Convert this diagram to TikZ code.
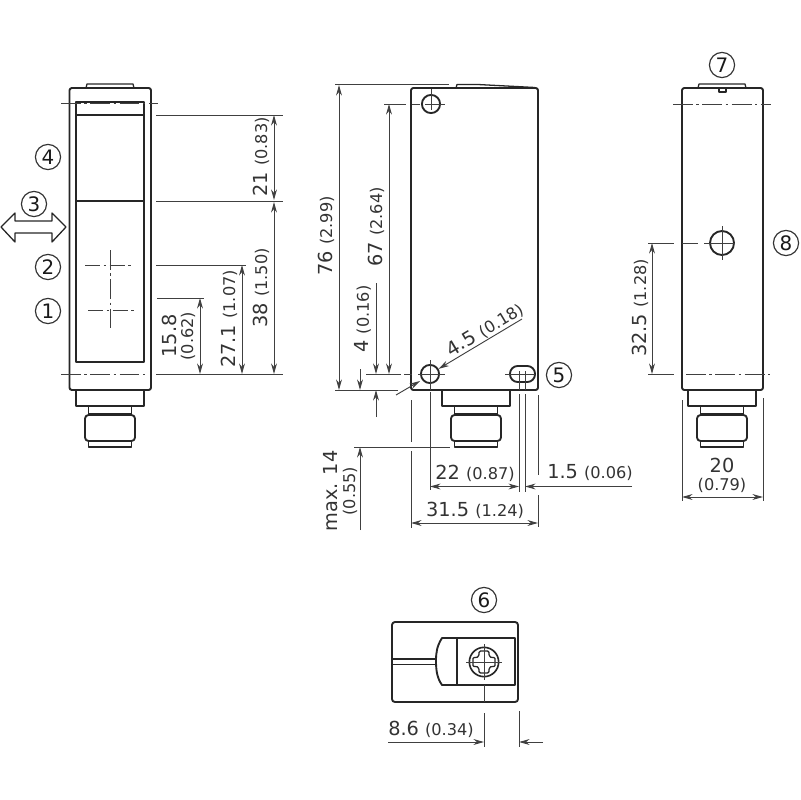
\documentclass[tikz,border=0pt]{standalone}
\usepackage{fontspec}
\setmainfont{DejaVu Sans}
\usetikzlibrary{arrows.meta}
\newcommand{\inch}[1]{{\fontsize{13.8}{15}\selectfont (#1)}}
\begin{document}
\begin{tikzpicture}[x=0.3mm, y=-0.3mm, >={Stealth[length=9pt,width=5pt]}]
        % Define styles
        \tikzstyle{body}=[line width=1.6pt,black!85,line join=round]
        \tikzstyle{dimline}=[line width=0.8pt,black!75]
        \tikzstyle{axis}=[line width=0.8pt,black!75,dash pattern=on 17pt off 3pt on 2pt off 3pt]
        \tikzstyle{label}=[inner sep=0pt,text=black!80,font=\fontsize{16.5}{18}\selectfont]
        \tikzstyle{marker}=[circle,draw=black!80,line width=1pt,minimum size=21.5pt,inner sep=0pt,text=black!90,font=\fontsize{17}{18}\selectfont]

        \useasboundingbox (0,0) rectangle (800,800);

        % Front view housing
        \draw [body, rounded corners=2pt] (69.5,390) -- (69.5,88) -- (151,88) -- (151,390) -- cycle;
        \draw [body, line width=1.1pt] (86,88) -- (87,84) -- (133,84) -- (134,88);
        \draw [body] (76,102) rectangle (144,362);
        \draw [body] (76,115) -- (144,115);
        \draw [body] (76,201) -- (144,201);
        \draw [axis] (61,103.5) -- (158,103.5);
        \draw [axis] (61,374) -- (148,374);

        % Lens axes
        \draw [axis] (110,250) -- (110,328);
        \draw [axis, dash pattern=on 13pt off 3pt on 2pt off 3pt] (85,265) -- (131,265);
        \draw [axis, dash pattern=on 13pt off 3pt on 2pt off 3pt] (88,310) -- (135,310);

        % Side view housing
        \draw [body, rounded corners=2pt] (411,390) -- (411,88) -- (456,88) -- (538,88) -- (538,390) -- cycle;
        \draw [body, line width=1.1pt] (456,88) -- (457,84.5) -- (478,84.5) -- (535,87.5);
        \node [circle, draw=black!85, line width=1.6pt, minimum size=15.5pt, inner sep=0pt] (hole-top) at (431,104) {};
        \node [circle, draw=black!85, line width=1.6pt, minimum size=15.5pt, inner sep=0pt] (hole-bottom) at (430,374) {};
        \draw [body, rounded corners=2.3mm] (510,366) rectangle (535,382);
        \draw [dimline] (431,89) -- (431,110);
        \draw [dimline] (412,104) -- (420,104);
        \draw [dimline] (425,104) -- (445,104);
        \draw [dimline] (430,360) -- (430,390);
        \draw [dimline] (404,374) -- (412,374);
        \draw [dimline] (418,374) -- (445,374);
        \draw [dimline] (505,374) -- (535,374);

        % Rear view housing
        \draw [body, rounded corners=2pt] (682,390) -- (682,88) -- (763,88) -- (763,390) -- cycle;
        \draw [body, line width=1.1pt] (698,88) -- (699,84) -- (745,84) -- (746,88);
        \draw [body, line width=1.1pt] (719,88) -- (719,92) -- (726,92) -- (726,88);
        \node [circle, draw=black!85, line width=1.6pt, minimum size=20.5pt, inner sep=0pt] (hole-rear) at (722,243) {};
        \draw [axis] (673,104) -- (771,104);
        \draw [axis] (686,374) -- (771,374);
        \draw [dimline] (722,226) -- (722,260);
        \draw [dimline] (682,243) -- (698,243);
        \draw [dimline] (704,243) -- (735,243);

        % Connectors
        \foreach \c in {110,476,722} {
            \draw [body] (\c-34,390) -- (\c-34,406) -- (\c+34,406) -- (\c+34,390);
            \draw [body] (\c-21.5,406) -- (\c-21.5,414);
            \draw [body] (\c+21.5,406) -- (\c+21.5,414);
            \draw [body, line width=1.1pt] (\c-21.5,414) -- (\c+21.5,414);
            \draw [body, rounded corners=3pt] (\c-25,415) rectangle (\c+25,441);
            \draw [body] (\c-21.5,441) -- (\c-21.5,447) -- (\c+21.5,447) -- (\c+21.5,441);
        }

        % Front view dimensions
        \draw [dimline] (156,115) -- (283,115);
        \draw [dimline] (156,201) -- (283,201);
        \draw [dimline] (156,265) -- (246,265);
        \draw [dimline] (157,298) -- (204,298);
        \draw [dimline] (156,374) -- (283,374);
        \draw [dimline, <->] (274,115) -- (274,200);
        \draw [dimline, <->] (274,202) -- (274,374);
        \draw [dimline, <->] (242,265) -- (242,374);
        \draw [dimline, <->] (200,298) -- (200,374);
        \node [label, rotate=90] (dim-21) at (261,157) {21 \inch{0.83}};
        \node [label, rotate=90] (dim-38) at (261,288) {38 \inch{1.50}};
        \node [label, rotate=90] (dim-27) at (229,319) {27.1 \inch{1.07}};
        \node [label, rotate=90] (dim-15) at (169,336) {15.8};
        \node [label, rotate=90] (dim-15b) at (188,336) {\inch{0.62}};

        % Side view dimensions
        \draw [dimline] (335,84.5) -- (449,84.5);
        \draw [dimline] (384,104) -- (406,104);
        \draw [dimline] (366,374) -- (401,374);
        \draw [dimline] (335,390) -- (398,390);
        \draw [dimline] (354,447) -- (450,447);
        \draw [dimline, <->] (339,85) -- (339,390);
        \draw [dimline, <->] (389,104) -- (389,374);
        \draw [dimline, ->] (376,283) -- (376,374);
        \draw [dimline, ->] (376,417) -- (376,390);
        \draw [dimline, ->] (360,369) -- (360,390);
        \draw [dimline, ->] (360,530) -- (360,447);
        \draw [dimline, ->] (522,319) -- (hole-bottom);
        \draw [dimline, ->] (396,395) -- (420,381);
        \draw [dimline] (411,400) -- (411,442);
        \draw [dimline] (411,451) -- (411,528);
        \draw [dimline] (430,392) -- (430,490);
        \draw [dimline] (519,371) -- (519,390);
        \draw [dimline] (525,371) -- (525,390);
        \draw [dimline] (519,394) -- (519,492);
        \draw [dimline] (525,394) -- (525,492);
        \draw [dimline] (538,395) -- (538,475);
        \draw [dimline] (538,495) -- (538,527);
        \draw [dimline, <->] (430,486.5) -- (519,486.5);
        \draw [dimline, ->] (632,486.5) -- (525,486.5);
        \draw [dimline, <->] (411,523) -- (538,523);
        \node [label, rotate=90] (dim-76) at (326,236) {76 \inch{2.99}};
        \node [label, rotate=90] (dim-67) at (376,227) {67 \inch{2.64}};
        \node [label, rotate=90] (dim-4) at (363,319) {4 \inch{0.16}};
        \node [label, rotate=31] (dim-45) at (485,330) {4.5 \inch{0.18}};
        \node [label] (dim-22) at (475,473) {22 \inch{0.87}};
        \node [label] (dim-1) at (590,473) {1.5 \inch{0.06}};
        \node [label] (dim-31) at (475,510) {31.5 \inch{1.24}};
        \node [label, rotate=90] (dim-14) at (331,491) {max. 14};
        \node [label, rotate=90] (dim-14b) at (350,491) {\inch{0.55}};

        % Rear view dimensions
        \draw [dimline] (648,243) -- (674,243);
        \draw [dimline] (648,374) -- (674,374);
        \draw [dimline, <->] (652,243) -- (652,374);
        \draw [dimline] (682,400) -- (682,501);
        \draw [dimline] (763,398) -- (763,501);
        \draw [dimline, <->] (682,497) -- (763,497);
        \node [label, rotate=90] (dim-32) at (640,308) {32.5 \inch{1.28}};
        \node [label] (dim-20) at (722,465) {20};
        \node [label] (dim-20b) at (722,485) {\inch{0.79}};

        % Connector face
        \draw [body, rounded corners=2.5pt] (392,622) rectangle (518,702);
        \draw [body] (515,638) -- (442,638) .. controls (437,646) and (436,652) .. (436,661) .. controls (436,670) and (437,678) .. (442,685) -- (515,685) -- cycle;
        \draw [body] (457,638) -- (457,685);
        \draw [body, line width=1.1pt] (392,659) -- (436,659);
        \draw [body, line width=1.1pt] (392,664.5) -- (436,664.5);
        \node [circle, draw=black!85, line width=1.4pt, minimum size=25pt, inner sep=0pt] (screw) at (484,662) {};
        \draw [body, line width=1.1pt, rounded corners=1.2pt] (479,651) -- (479,656) -- (476,658) -- (473,657) -- (473,667) -- (476,666) -- (479,668) -- (479,673) -- (489,673) -- (489,668) -- (492,666) -- (495,667) -- (495,657) -- (492,658) -- (489,656) -- (489,651) -- cycle;
        \draw [dimline] (466,662) -- (502,662);
        \draw [dimline] (484,644) -- (484,680);
        \draw [dimline] (484,685) -- (484,702);
        \draw [dimline] (484,713) -- (484,747);
        \draw [dimline] (519,711) -- (519,747);
        \draw [dimline, ->] (388,742) -- (484,742);
        \draw [dimline, ->] (543,742) -- (519,742);
        \node [label] (dim-8) at (431,729) {8.6 \inch{0.34}};

        % Double arrow outline
        \draw [body, line width=1.1pt] (1,227) -- (15,213) -- (15,221) -- (52,221) -- (52,213) -- (66,227) -- (52,242) -- (52,233) -- (15,233) -- (15,242) -- cycle;

        % Numbered markers
        \foreach \n/\px/\py in {1/48/311, 2/48/267, 3/34/204, 4/48/157, 5/559/375, 6/484/600, 7/722/65, 8/786/243}
            \node [marker] (marker-\n) at (\px,\py) {\n};
\end{tikzpicture}
\end{document}
